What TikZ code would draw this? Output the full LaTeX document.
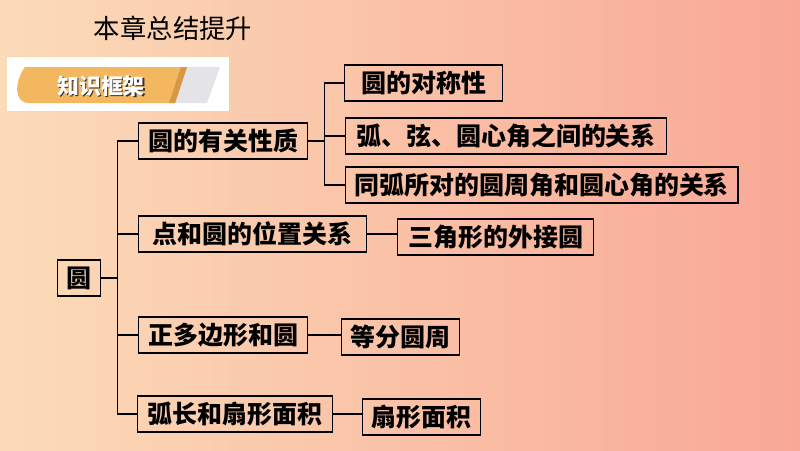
\documentclass[tikz,border=0pt]{standalone}
\usepackage{fontspec}
\newfontfamily\cjk{Noto Sans CJK SC}
\usetikzlibrary{positioning}
\usetikzlibrary{calc}

\definecolor{bgleft}{RGB}{251,219,184}
\definecolor{bgright}{RGB}{249,168,150}
\definecolor{tagorange}{RGB}{243,183,96}
\definecolor{tagdark}{RGB}{214,152,70}
\definecolor{taggray}{RGB}{228,228,232}

\tikzset{
    box/.style={draw, rectangle, line width=0.8pt, anchor=west, minimum height=0.72cm,
        inner xsep=0.18cm, font=\cjk\bfseries\fontsize{14.2}{17}\selectfont, align=left},
    link/.style={line width=0.8pt}
}

\begin{document}
\begin{tikzpicture}[x=0.02cm, y=-0.02cm]
    % background and frame tag
    \shade[left color=bgleft, right color=bgright] (0,0) rectangle (800,450);
    \useasboundingbox (0,0) rectangle (800,450);
    \node (title) [font=\cjk\fontsize{15}{18}\selectfont] at (173, 28) {本章总结提升};

    \fill[white] (7,57) rectangle (229,111);
    \fill[taggray] (183,67) -- (220,67) -- (207,103) -- (170,103) -- cycle;
    \fill[tagorange] (25,67) -- (187,67) -- (175,103) -- (29,103) .. controls (14,103) and (14,82) .. (25,67) -- cycle;
    \fill[tagdark] (181,67) -- (187,67) -- (175,103) -- (169,103) -- cycle;
    \node (tagshadow) [font=\cjk\bfseries\fontsize{12.5}{15}\selectfont, text=black!80] at (102.5, 87.5) {知识框架};
    \node (tag) [font=\cjk\bfseries\fontsize{12.5}{15}\selectfont, text=white] at (101, 86) {知识框架};

    % Make the knowledge tree for the circle chapter
    \node (yuan) [box, minimum width=0.8cm] at (57, 278) {圆};

    \node (xz) [box, minimum width=3.38cm] at (138, 141) {圆的有关性质};
    \node (wz) [box, minimum width=4.56cm] at (138, 234) {点和圆的位置关系};
    \node (dbx) [box, minimum width=3.38cm] at (138, 335) {正多边形和圆};
    \node (hc) [box, minimum width=3.9cm] at (137, 414) {弧长和扇形面积};

    \node (dc) [box, minimum width=3.16cm] at (344, 83) {圆的对称性};
    \node (hx) [box, minimum width=6.42cm] at (345, 136) {弧、弦、圆心角之间的关系};
    \node (tg) [box, minimum width=7.82cm] at (345, 185) {同弧所对的圆周角和圆心角的关系};
    \node (wj) [box, minimum width=3.92cm] at (397, 237) {三角形的外接圆};
    \node (df) [box, minimum width=2.36cm] at (341, 337) {等分圆周};
    \node (sx) [box, minimum width=2.36cm] at (362, 417) {扇形面积};

    \draw[link] (yuan.east) -- ++(16,0) coordinate (lbus);
    \draw[link] (lbus |- xz.west) -- (lbus |- hc.west);
    \foreach \n in {xz, wz, dbx, hc}
        \draw[link] (lbus |- \n.west) -- (\n.west);

    \draw[link] (xz.east) -- ++(16,0) coordinate (rbus);
    \draw[link] (rbus |- dc.west) -- (rbus |- tg.west);
    \foreach \n in {dc, hx, tg}
        \draw[link] (rbus |- \n.west) -- (\n.west);

    \draw[link] (wz.east) -- (wz.east -| wj.west);
    \draw[link] (dbx.east) -- (dbx.east -| df.west);
    \draw[link] (hc.east) -- (hc.east -| sx.west);

\end{tikzpicture}
\end{document}
